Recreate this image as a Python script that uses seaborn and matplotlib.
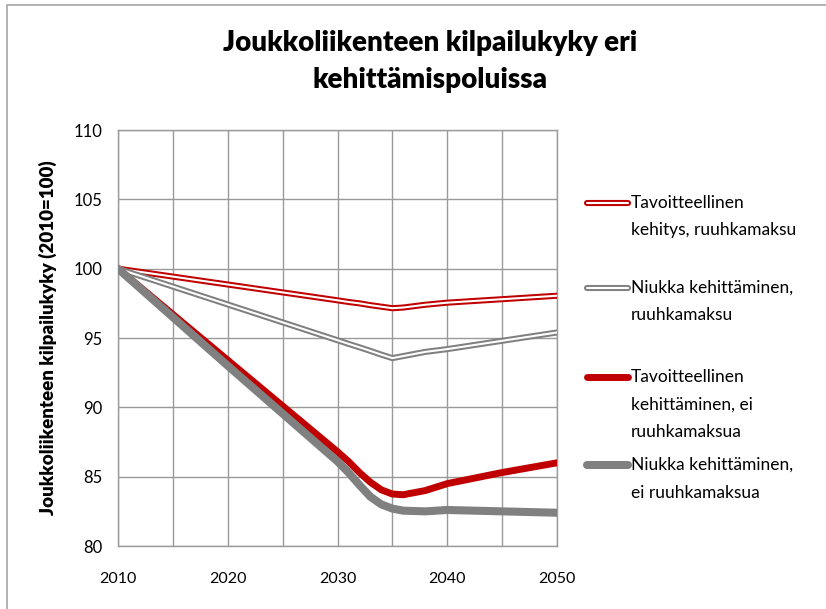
import matplotlib
matplotlib.use("Agg")
import matplotlib.pyplot as plt
import matplotlib.patheffects as pe
from matplotlib.lines import Line2D
from matplotlib.patches import Rectangle
import seaborn as sns
import pandas as pd

years = [2010, 2020, 2030, 2031, 2032, 2033, 2034, 2035, 2036, 2038, 2040, 2045, 2050]

tavoite_ruuhka = [100.0, 98.86, 97.72, 97.6, 97.5, 97.37, 97.26, 97.15, 97.2, 97.4, 97.55, 97.8, 98.05]
niukka_ruuhka = [100.0, 97.42, 94.84, 94.58, 94.33, 94.07, 93.8, 93.55, 93.7, 94.0, 94.2, 94.8, 95.4]
tavoite_ei = [100.0, 93.4, 86.8, 86.1, 85.3, 84.6, 84.05, 83.75, 83.7, 84.0, 84.5, 85.3, 86.0]
niukka_ei = [100.0, 93.0, 86.1, 85.3, 84.4, 83.55, 83.0, 82.7, 82.55, 82.5, 82.6, 82.5, 82.4]

labels = [
    "Tavoitteellinen\nkehitys, ruuhkamaksu",
    "Niukka kehittäminen,\nruuhkamaksu",
    "Tavoitteellinen\nkehittäminen, ei\nruuhkamaksua",
    "Niukka kehittäminen,\nei ruuhkamaksua",
]

title = "Joukkoliikenteen kilpailukyky eri\nkehittämispoluissa"
ylabel = "Joukkoliikenteen kilpailukyky (2010=100)"
xticks = [2010, 2020, 2030, 2040, 2050]
yticks = [80, 85, 90, 95, 100, 105, 110]

RED = "#c00000"
GREY = "#808080"

sns.set_style("white")
plt.rcParams["font.family"] = ["Lato", "DejaVu Sans"]
plt.rcParams["text.color"] = "black"
plt.rcParams["xtick.color"] = "black"
plt.rcParams["ytick.color"] = "black"
plt.rcParams["axes.labelcolor"] = "black"

fig = plt.figure(figsize=(8.26, 6.09), dpi=100)
ax = fig.add_axes([0.1429, 0.1034, 0.5314, 0.6831])

df = pd.DataFrame({
    "year": years * 4,
    "value": tavoite_ruuhka + niukka_ruuhka + tavoite_ei + niukka_ei,
    "series": sum([[s] * len(years) for s in labels], []),
})

hollow_fx = lambda col: [pe.Stroke(linewidth=4.4, foreground=col), pe.Normal()]

# hollow lines: white core with coloured outline
for lab, col in [(labels[0], RED), (labels[1], GREY)]:
    sns.lineplot(data=df[df.series == lab], x="year", y="value", ax=ax,
                 color="white", lw=1.5, zorder=3, path_effects=hollow_fx(col))
sns.lineplot(data=df[df.series == labels[2]], x="year", y="value", ax=ax,
             color=RED, lw=5, zorder=4, solid_capstyle="round", solid_joinstyle="round")
sns.lineplot(data=df[df.series == labels[3]], x="year", y="value", ax=ax,
             color=GREY, lw=5.8, zorder=5, solid_capstyle="round", solid_joinstyle="round")

ax.set_xlim(2010, 2050)
ax.set_ylim(80, 110)
ax.set_xticks(range(2010, 2051, 5), minor=True)
ax.set_xticks(xticks)
ax.set_yticks(yticks)
ax.grid(True, which="both", axis="x", color="#9a9a9a", lw=1)
ax.grid(True, axis="y", color="#9a9a9a", lw=1)
ax.tick_params(axis="both", which="both", length=0)
ax.tick_params(axis="y", pad=11, labelsize=12)
ax.tick_params(axis="x", pad=19, labelsize=11.5)
for s in ax.spines.values():
    s.set_color("#9a9a9a")
    s.set_linewidth(1)
ax.set_xlabel("")
ax.set_ylabel(ylabel, fontsize=13.5, fontweight="heavy", labelpad=12)
ax.set_title(title, fontsize=20, fontweight="heavy", pad=30, x=0.71, linespacing=1.55)

# legend drawn by hand so the handle sits on the first text line
first_y = [203, 288, 377, 465]
for lab, y0, kind in zip(labels, first_y, ["hr", "hg", "r", "g"]):
    yf = 1 - y0 / 609
    xs = [587 / 826, 628 / 826]
    if kind in ("hr", "hg"):
        col = RED if kind == "hr" else GREY
        fig.add_artist(Line2D(xs, [yf, yf], color="white", lw=1.5, path_effects=hollow_fx(col)))
    else:
        col = RED if kind == "r" else GREY
        fig.add_artist(Line2D(xs, [yf, yf], color=col, lw=5 if kind == "r" else 5.8,
                              solid_capstyle="round"))
    for i, line in enumerate(lab.split("\n")):
        fig.text(631 / 826, 1 - (y0 + i * 27.5) / 609, line, fontsize=12.5,
                 va="center", ha="left")

# chart frame
fig.add_artist(Rectangle((7 / 826, -0.1), 1.2, 1.1 - 5 / 609, transform=fig.transFigure,
                         fill=False, edgecolor="#a6a6a6", lw=1.2))

fig.savefig("out.png", dpi=100)
